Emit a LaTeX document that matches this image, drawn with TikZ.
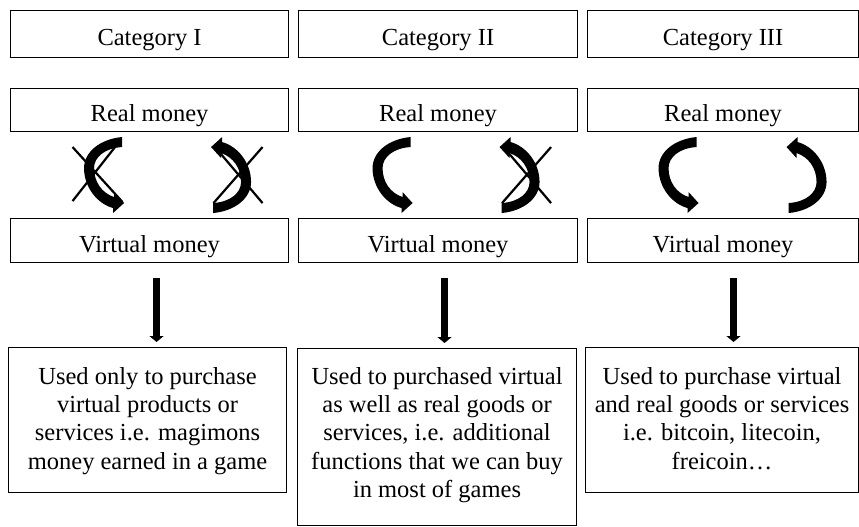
\documentclass[tikz,border=0pt]{standalone}
\usepackage{fontspec}
\setmainfont{Liberation Serif}
\usetikzlibrary{arrows.meta,calc}

\tikzset{
  txt/.style={font=\fontsize{24.5}{28.3}\selectfont},
  hdbox/.style={draw, line width=1.1pt, anchor=north west, inner sep=0pt,
    text height=23pt, text depth=0pt, txt},
  usebox/.style={draw, line width=1.1pt, anchor=north west, inner sep=0pt},
  usetext/.style={anchor=north, align=center, inner sep=0pt, txt},
  vflow/.style={line width=6.5pt, -{Triangle[width=14pt,length=6pt]},
    shorten <=15pt, shorten >=5pt},
  crossout/.style={line width=2.2pt},
  % thick crescent arrow, head at the lower right
  turnarrow/.pic={
    \fill (17.5,-38) .. controls (-4.5,-36) and (-20.5,-23) .. (-20.5,-7)
      .. controls (-20.5,13) and (-6.5,29) .. (8.5,33)
      -- (8.5,38) -- (19.5,28) -- (9.5,17) -- (9.5,22)
      .. controls (-2.5,18) and (-10.5,7) .. (-10.5,-7)
      .. controls (-10.5,-18) and (0.5,-27) .. (17.5,-28) -- cycle;
  }
}

\begin{document}
\begin{tikzpicture}[x=1pt,y=-1pt]
\useasboundingbox (0,0) rectangle (859,527);

% headers
\node[hdbox, minimum width=278pt, minimum height=47pt] (cat1) at (10,10) {Category I};
\node[hdbox, minimum width=279pt, minimum height=47pt] (cat2) at (298,10) {Category II};
\node[hdbox, minimum width=271pt, minimum height=47pt] (cat3) at (587,10) {Category III};

% real money
\node[hdbox, minimum width=278pt, minimum height=43pt] (rm1) at (10,88) {Real money};
\node[hdbox, minimum width=279pt, minimum height=43pt] (rm2) at (298,88) {Real money};
\node[hdbox, minimum width=271pt, minimum height=43pt] (rm3) at (587,88) {Real money};

% virtual money
\node[hdbox, minimum width=278pt, minimum height=44pt] (vm1) at (10,218) {Virtual money};
\node[hdbox, minimum width=279pt, minimum height=44pt] (vm2) at (298,218) {Virtual money};
\node[hdbox, minimum width=271pt, minimum height=44pt] (vm3) at (587,218) {Virtual money};

% usage boxes
\node[usebox, minimum width=278pt, minimum height=145pt] (use1) at (8,347) {};
\node[usebox, minimum width=279pt, minimum height=177pt] (use2) at (297,348) {};
\node[usebox, minimum width=273pt, minimum height=145pt] (use3) at (585,347) {};

\node[usetext] (t1) at ([yshift=-20pt]use1.north)
  {Used only to purchase\\virtual products or\\services i.e. magimons\\money earned in a game};
\node[usetext] (t2) at ([yshift=-19pt]use2.north)
  {Used to purchased virtual\\as well as real goods or\\services, i.e. additional\\functions that we can buy\\in most of games};
\node[usetext] (t3) at ([yshift=-20pt]use3.north)
  {Used to purchase virtual\\and real goods or services\\i.e. bitcoin, litecoin,\\freicoin…};

% downward arrows
\draw[vflow] ([xshift=7pt]vm1.south) -- ([xshift=7pt]vm1.south |- use1.north);
\draw[vflow] ([xshift=6.5pt]vm2.south) -- ([xshift=6.5pt]vm2.south |- use2.north);
\draw[vflow] ([xshift=10.5pt]vm3.south) -- ([xshift=10.5pt]vm3.south |- use3.north);

% exchange arrows between real and virtual money
\coordinate (m1) at ($(rm1.south)!0.5!(vm1.north)$);
\coordinate (m2) at ($(rm2.south)!0.5!(vm2.north)$);
\coordinate (m3) at ($(rm3.south)!0.5!(vm3.north)$);

\coordinate (a1l) at ([xshift=-45pt]m1);
\coordinate (a1r) at ([xshift=81pt]m1);
\coordinate (a2l) at ([xshift=-45pt]m2);
\coordinate (a2r) at ([xshift=81pt]m2);
\coordinate (a3l) at ([xshift=-44pt]m3);
\coordinate (a3r) at ([xshift=83pt]m3);

\pic (p1l) at (a1l) {turnarrow};
\pic[rotate=180] (p1r) at (a1r) {turnarrow};
\pic (p2l) at (a2l) {turnarrow};
\pic[rotate=180] (p2r) at (a2r) {turnarrow};
\pic (p3l) at (a3l) {turnarrow};
\pic[rotate=180] (p3r) at (a3r) {turnarrow};

% blocked directions
\draw[crossout] ([shift={(-32,-28)}]a1l) -- ([shift={(18,27)}]a1l);
\draw[crossout] ([shift={(-32,26)}]a1l) -- ([shift={(16,-35)}]a1l);
\draw[crossout] ([shift={(-17,28)}]a1r) -- ([shift={(32,-28)}]a1r);
\draw[crossout] ([shift={(-13,-25)}]a1r) -- ([shift={(32,28)}]a1r);
\draw[crossout] ([shift={(-17,28)}]a2r) -- ([shift={(32,-28)}]a2r);
\draw[crossout] ([shift={(-13,-25)}]a2r) -- ([shift={(32,28)}]a2r);
\end{tikzpicture}
\end{document}
